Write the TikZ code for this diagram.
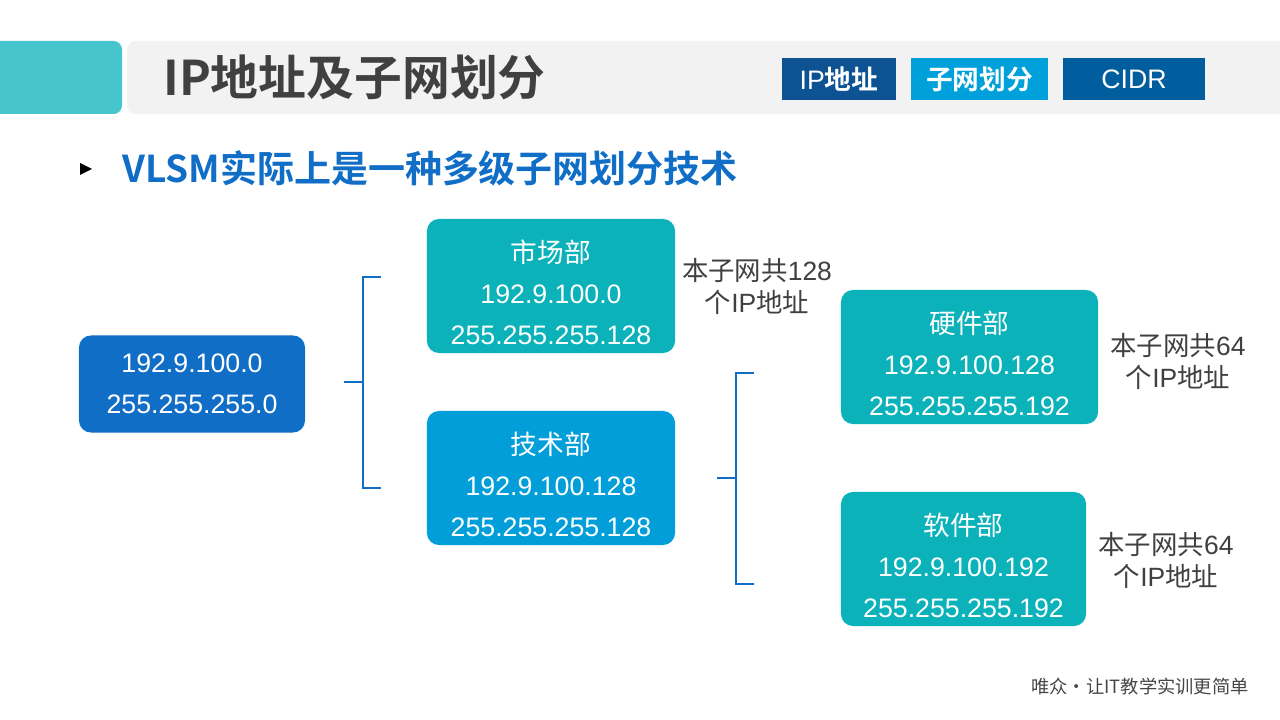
\documentclass[tikz,border=0pt]{standalone}
\usepackage{fontspec}
\setmainfont{Liberation Sans}
\newfontfamily\cjk{Noto Sans CJK SC}[BoldFont={Noto Sans CJK SC Bold}]
\usetikzlibrary{positioning}
\definecolor{HeadTeal}{RGB}{71,197,204}
\definecolor{HeadGray}{RGB}{242,242,242}
\definecolor{TitleGray}{RGB}{64,64,64}
\definecolor{VlsmBlue}{RGB}{16,110,198}
\definecolor{DeptTeal}{RGB}{11,178,186}
\definecolor{DeptSky}{RGB}{2,158,217}
\definecolor{TabDark}{RGB}{13,82,147}
\definecolor{TabSky}{RGB}{0,160,218}
\definecolor{TabMid}{RGB}{0,94,159}
\definecolor{FootGray}{RGB}{70,70,70}
\newcommand{\depthead}[1]{\rule{0pt}{25pt}{\cjk #1}}

\begin{document}
\begin{tikzpicture}[x=0.025cm,y=-0.025cm, every node/.style={align=center, inner sep=0pt},
  dept/.style={rounded corners=8.5pt, text=white, minimum height=3.35cm, font=\fontsize{19}{29}\selectfont},
  tab/.style={text=white, minimum height=1.05cm, font=\fontsize{19}{23}\selectfont},
  note/.style={text=TitleGray, font=\fontsize{18.8}{22.7}\selectfont},
  brk/.style={draw=VlsmBlue, line width=0.9pt}]
  \useasboundingbox (0,0) rectangle (1280,720);

  \fill[HeadTeal, rounded corners=6pt] (-20,41) rectangle (122,114);
  \fill[HeadGray, rounded corners=6pt] (127,41) rectangle (1300,114);
  \node[anchor=west, text=TitleGray, font=\cjk\bfseries\fontsize{34}{36}\selectfont] (title) at (163,77) {IP地址及子网划分};

  \node[tab, fill=TabDark, minimum width=2.85cm] (tip) at (839,79) {IP{\cjk\bfseries 地址}};
  \node[tab, fill=TabSky, minimum width=3.425cm, font=\cjk\bfseries\fontsize{19}{23}\selectfont] (tsub) at (979.5,79) {子网划分};
  \node[tab, fill=TabMid, minimum width=3.55cm] (tcidr) at (1134,79) {CIDR};

  \fill (80,163) -- (92,169) -- (80,175) -- cycle;
  \node[anchor=west, text=VlsmBlue, font=\cjk\bfseries\fontsize{26.3}{30}\selectfont] (sub) at (122,168) {VLSM实际上是一种多级子网划分技术};

  \node[fill=VlsmBlue, rounded corners=8.5pt, text=white, minimum width=5.65cm, minimum height=2.425cm, font=\fontsize{19}{29}\selectfont] (net) at (192,384) {192.9.100.0\\255.255.255.0};

  \node[dept, fill=DeptTeal, minimum width=6.2cm] (mkt) at (551,286) {\depthead{市场部}\\192.9.100.0\\255.255.255.128};
  \node[dept, fill=DeptSky, minimum width=6.2cm] (tech) at (551,478) {\depthead{技术部}\\192.9.100.128\\255.255.255.128};
  \node[dept, fill=DeptTeal, minimum width=6.425cm] (hw) at (969.5,357) {\depthead{硬件部}\\192.9.100.128\\255.255.255.192};
  \node[dept, fill=DeptTeal, minimum width=6.125cm] (sw) at (963.5,559) {\depthead{软件部}\\192.9.100.192\\255.255.255.192};

  \node[note] (nmkt) at (757,286) {{\cjk 本子网共}128\\{\cjk 个}IP{\cjk 地址}};
  \node[note] (nhw) at (1178,361) {{\cjk 本子网共}64\\{\cjk 个}IP{\cjk 地址}};
  \node[note] (nsw) at (1166,560) {{\cjk 本子网共}64\\{\cjk 个}IP{\cjk 地址}};

  \coordinate (s1) at (344,382);
  \coordinate (m1) at (363,382);
  \coordinate (t1) at (381,277);
  \coordinate (u1) at (381,488);
  \draw[brk] (s1) -- (m1) (t1) -| (m1) |- (u1);

  \coordinate (s2) at (717,478);
  \coordinate (m2) at (736,478);
  \coordinate (t2) at (754,373);
  \coordinate (u2) at (754,584);
  \draw[brk] (s2) -- (m2) (t2) -| (m2) |- (u2);

  \node[text=FootGray, font=\cjk\fontsize{13}{15}\selectfont] (foot) at (1140,686) {唯众•让IT教学实训更简单};
\end{tikzpicture}
\end{document}
